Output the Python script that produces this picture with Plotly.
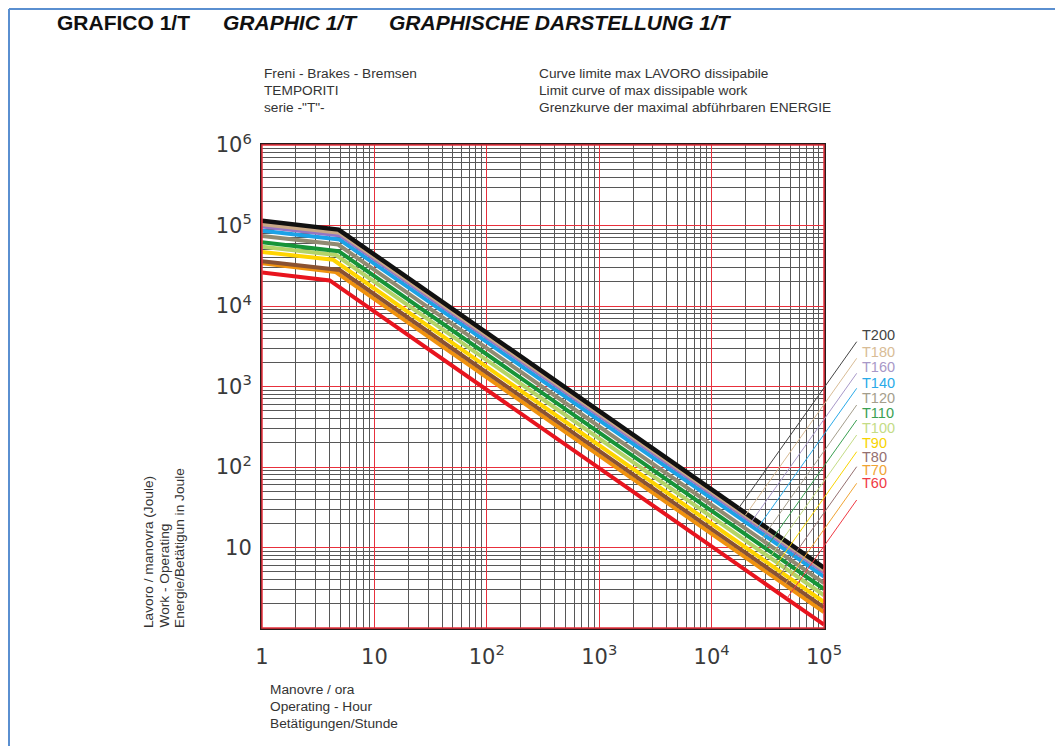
import plotly.graph_objects as go
import math

# ---------------- data ----------------
series_names = ["T60", "T70", "T80", "T90", "T100", "T110", "T120", "T140", "T160", "T180", "T200"]
ops_start = 1            # operations / hour
ops_end = 100000
knee_ops = [4.0, 4.5, 4.9, 4.3, 4.55, 4.8, 4.75, 4.9, 5.0, 4.9, 4.8]
work_start = [2.6e4, 3.4e4, 3.6e4, 4.7e4, 5.45e4, 6.2e4, 7.4e4, 8.6e4, 9.7e4, 1.04e5, 1.15e5]
work_knee = [2.08e4, 2.65e4, 2.8e4, 3.75e4, 4.3e4, 4.8e4, 5.8e4, 6.7e4, 7.5e4, 8.1e4, 8.9e4]
work_end = [1.1, 1.58, 1.8, 2.1, 2.55, 3.05, 3.6, 4.35, 4.95, 5.25, 5.6]

x_tickvals = [1, 10, 100, 1000, 10000, 100000]
x_ticktext = ["1", "10", "10<sup>2</sup>", "10<sup>3</sup>", "10<sup>4</sup>", "10<sup>5</sup>"]
y_tickvals = [10, 100, 1000, 10000, 100000, 1000000]
y_ticktext = ["10", "10<sup>2</sup>", "10<sup>3</sup>", "10<sup>4</sup>", "10<sup>5</sup>", "10<sup>6</sup>"]

# ---------------- styles ----------------
line_colors = ["#e8141e", "#f0920e", "#8a5232", "#ffd400", "#b4d468", "#169438",
               "#918b72", "#1ca2e6", "#9476c4", "#c8a886", "#111111"]
label_colors = ["#f03a44", "#f0a434", "#957070", "#f8d400", "#c4dc86", "#3aa052",
                "#a49e8c", "#2aaae8", "#a898c8", "#d8bc96", "#444444"]
line_widths = [4, 4, 4, 4, 4, 4, 4, 4, 4, 4, 4.5]

W, H = 1063, 746          # page size
OFF = 8                   # default body margin of the page
L, R, T, B = 262, 824, 145, 628   # plot area in page pixels


def xp(px):
    return (px - L) / (R - L)


def yp(py):
    return (B - py) / (B - T)


def to_px(xv, yv):
    return (L + math.log10(xv) / 5 * (R - L), B - math.log10(yv) / 6 * (B - T))


fig = go.Figure()
for i, name in enumerate(series_names):
    fig.add_trace(go.Scatter(
        x=[ops_start, knee_ops[i], ops_end],
        y=[work_start[i], work_knee[i], work_end[i]],
        mode="lines", name=name,
        line=dict(color=line_colors[i], width=line_widths[i]),
        showlegend=False, hoverinfo="skip"))

annotations = []
shapes = []
font_main = "Liberation Sans, Arial, sans-serif"

# inner red frame of the plot area
shapes.append(dict(type="rect", xref="paper", yref="paper", x0=0, x1=1, y0=0, y1=1,
                   line=dict(color="#e8303c", width=1.5), layer="above"))

# labels with leader lines
label_py = [483.3, 470, 456.7, 443.3, 428.3, 413.3, 398.3, 382.7, 366.7, 351.7, 335]
tail_py = [500, 483.3, 466.7, 451.7, 435, 420, 405, 388.3, 373.3, 358.3, 341.7]
tail_px = 856.7
dir_px = (-1.0, 1.41)
for i, name in enumerate(series_names):
    annotations.append(dict(
        x=xp(861), y=yp(label_py[i]), xref="paper", yref="paper",
        xanchor="left", yanchor="middle", showarrow=False, borderpad=0,
        text=name, font=dict(family=font_main, size=14.5, color=label_colors[i])))
    # intersection of leader with the sloped segment of the curve
    kx, ky = to_px(knee_ops[i], work_knee[i])
    ex, ey = to_px(ops_end, work_end[i])
    tx, ty = tail_px, tail_py[i]
    a11, a12, b1 = dir_px[0], -(ex - kx), kx - tx
    a21, a22, b2 = dir_px[1], -(ey - ky), ky - ty
    det = a11 * a22 - a12 * a21
    s = (b1 * a22 - a12 * b2) / det
    hx, hy = tx + s * dir_px[0], ty + s * dir_px[1]
    shapes.append(dict(type="line", xref="paper", yref="paper",
                       x0=xp(tx), y0=yp(ty), x1=xp(hx), y1=yp(hy),
                       line=dict(color=label_colors[i], width=1)))

# title
title_font = dict(family=font_main, size=21, color="#111111")
annotations += [
    dict(x=xp(55), y=yp(23), xref="paper", yref="paper", xanchor="left", yanchor="middle",
         showarrow=False, text="<b>GRAFICO 1/T</b>", font=title_font),
    dict(x=xp(221), y=yp(23), xref="paper", yref="paper", xanchor="left", yanchor="middle",
         showarrow=False, text="<b><i>GRAPHIC 1/T</i></b>", font=title_font),
    dict(x=xp(387), y=yp(23), xref="paper", yref="paper", xanchor="left", yanchor="middle",
         showarrow=False, text="<b><i>GRAPHISCHE DARSTELLUNG 1/T</i></b>", font=title_font),
]

small = dict(family=font_main, size=13.7, color="#333333")
top_left = ["Freni - Brakes - Bremsen", "TEMPORITI", "serie -\"T\"-"]
top_right = ["Curve limite max LAVORO dissipabile", "Limit curve of max dissipable work",
             "Grenzkurve der maximal abführbaren ENERGIE"]
for k, py in enumerate([74, 90.5, 107]):
    annotations.append(dict(x=xp(262), y=yp(py), xref="paper", yref="paper", xanchor="left",
                            yanchor="middle", showarrow=False, text=top_left[k], font=small))
    annotations.append(dict(x=xp(537), y=yp(py), xref="paper", yref="paper", xanchor="left",
                            yanchor="middle", showarrow=False, text=top_right[k], font=small))

x_title = ["Manovre / ora", "Operating - Hour", "Betätigungen/Stunde"]
for k, py in enumerate([689, 706, 723]):
    annotations.append(dict(x=xp(268), y=yp(py), xref="paper", yref="paper", xanchor="left",
                            yanchor="middle", showarrow=False, text=x_title[k], font=small))

y_title = ["Lavoro / manovra (Joule)", "Work - Operating", "Energie/Betätigun in Joule"]
for k, px in enumerate([148, 163.5, 179]):
    annotations.append(dict(x=xp(px), y=yp(630), xref="paper", yref="paper", xanchor="center",
                            yanchor="bottom", showarrow=False, textangle=-90, text=y_title[k],
                            font=small))

# page frame (blue border of the document)
shapes += [
    dict(type="line", xref="paper", yref="paper", x0=xp(OFF + 1), x1=xp(W), y0=yp(OFF + 1),
         y1=yp(OFF + 1), line=dict(color="#5a8fd0", width=2)),
    dict(type="line", xref="paper", yref="paper", x0=xp(OFF + 1), x1=xp(OFF + 1),
         y0=yp(OFF + 1), y1=yp(H), line=dict(color="#5a8fd0", width=2)),
]

axis_common = dict(
    type="log", showline=True, linecolor="#2a1a1a", linewidth=2, mirror=True,
    showgrid=True, gridcolor="#e8303c", gridwidth=1.3, ticks="", zeroline=False,
    minor=dict(showgrid=True, gridcolor="#575757", gridwidth=1.1, dtick="D1"),
    tickfont=dict(family="DejaVu Sans, sans-serif", size=21, color="#3a3a3a"),
)

fig.update_layout(
    width=W - OFF, height=H - OFF,
    margin=dict(l=L - OFF, r=W - R, t=T - OFF, b=H - B, pad=0),
    paper_bgcolor="white", plot_bgcolor="white",
    xaxis=dict(range=[0, 5], tickvals=x_tickvals, ticktext=x_ticktext,
               ticklabelstandoff=9, **axis_common),
    yaxis=dict(range=[0, 6], tickvals=y_tickvals, ticktext=y_ticktext,
               ticklabelstandoff=4, **axis_common),
    annotations=annotations, shapes=shapes, showlegend=False,
)

fig.write_html("out.html")
